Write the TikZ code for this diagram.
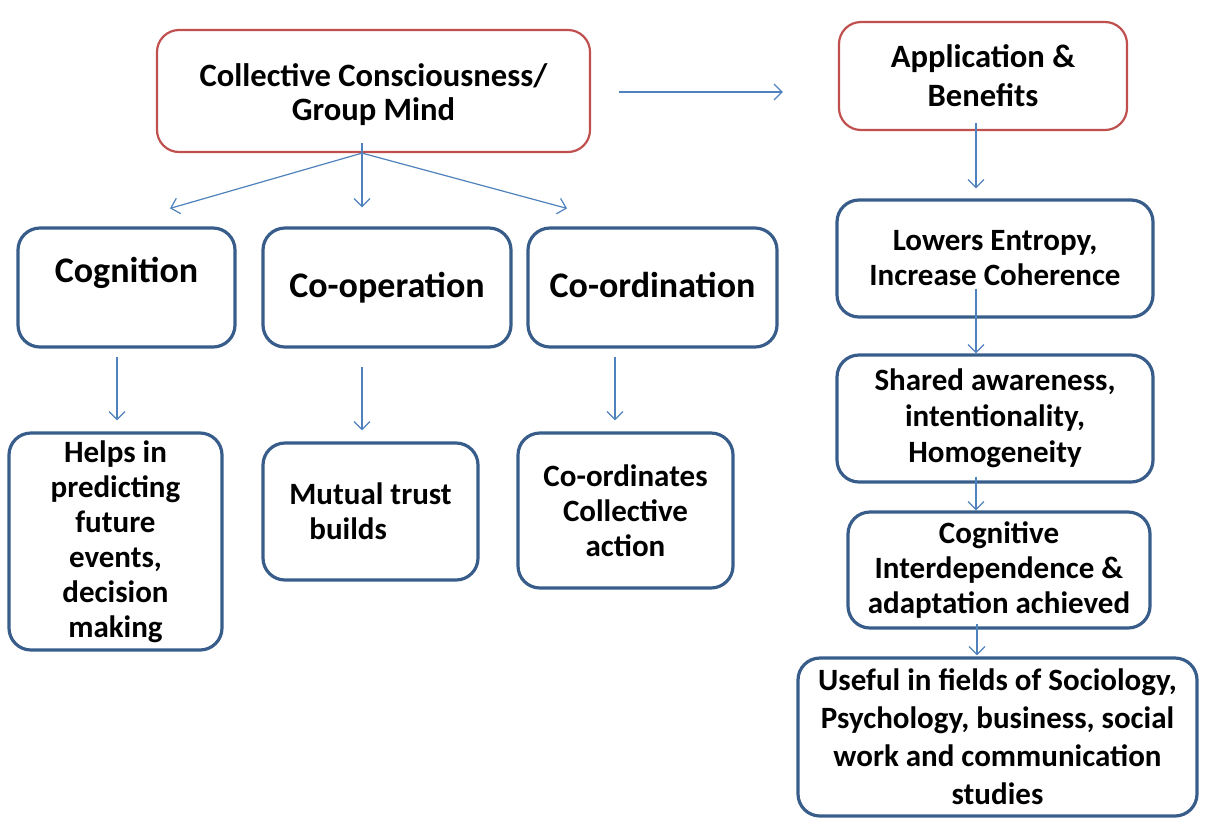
\documentclass[tikz,border=0pt]{standalone}
\usepackage{fontspec}
\setmainfont{Carlito}
\usetikzlibrary{arrows.meta}
\definecolor{boxred}{HTML}{C0504D}
\definecolor{boxblue}{HTML}{385D8A}
\definecolor{linkblue}{HTML}{4F81BD}
\begin{document}
\begin{tikzpicture}[x=0.5pt,y=-0.5pt,
  redbox/.style={draw=boxred,line width=1.1pt,rounded corners=11pt,align=center,inner sep=0pt,
    font=\bfseries\fontsize{16.3}{17}\selectfont},
  bluebox/.style={draw=boxblue,line width=1.6pt,rounded corners=11pt,align=center,inner sep=0pt,
    font=\bfseries\fontsize{15.5}{17.5}\selectfont},
  head/.style={font=\bfseries\fontsize{18}{21}\selectfont},
  conn/.style={draw=linkblue,line width=0.6pt,-{Straight Barb[length=4pt,width=8pt]}}]
\useasboundingbox (0,0) rectangle (1208,820);
% top row
\node[redbox,minimum width=216.5pt,text height=45pt,text depth=16pt] (cc) at (373.5,91)
  {Collective Consciousness/\\Group Mind};
\node[redbox,minimum width=144pt,minimum height=54pt,font=\bfseries\fontsize{16.3}{19.5}\selectfont] (app) at (983,76)
  {Application \&\\Benefits};
% left side
\node[bluebox,head,minimum width=108.5pt,text height=27pt,text depth=32.5pt] (cog) at (126.5,287.5) {Cognition};
\node[bluebox,head,minimum width=124pt,text height=34.5pt,text depth=25pt] (coop) at (387,287.5) {Co-operation};
\node[bluebox,head,minimum width=124.5pt,text height=34.5pt,text depth=25pt] (coord) at (652.5,287.5) {Co-ordination};
\node[bluebox,minimum width=106.5pt,minimum height=108.5pt] (helps) at (115.5,541.5)
  {Helps in\\predicting\\future\\events,\\decision\\making};
\node[bluebox,align=left,minimum width=107.5pt,minimum height=68.5pt] (trust) at (370.5,511.5)
  {Mutual trust\\\hspace*{10pt}builds};
\node[bluebox,minimum width=107.5pt,minimum height=77.5pt] (coacts) at (625.5,510.5)
  {Co-ordinates\\Collective\\action};
% right side
\node[bluebox,minimum width=158pt,minimum height=58.5pt] (lowers) at (995,258.5)
  {Lowers Entropy,\\Increase Coherence};
\node[bluebox,minimum width=158pt,minimum height=63.5pt,font=\bfseries\fontsize{15.5}{18}\selectfont] (shared) at (995,418.5)
  {Shared awareness,\\intentionality,\\Homogeneity};
\node[bluebox,minimum width=151pt,minimum height=58pt] (cogint) at (999,570)
  {Cognitive\\Interdependence \&\\adaptation achieved};
\node[bluebox,minimum width=199.5pt,minimum height=79pt,font=\bfseries\fontsize{15.5}{19}\selectfont] (useful) at (997.5,737)
  {Useful in fields of Sociology,\\Psychology, business, social\\work and communication\\studies};
% connectors
\draw[conn] ([shift={(14pt,-0.5pt)}]cc.east) -- ([shift={(-27.5pt,-8pt)}]app.west);
\draw[conn] ([xshift=-5.75pt]cc.south) -- ([shift={(21.75pt,9pt)}]cog.north);
\draw[conn] ([shift={(-5.75pt,5pt)}]cc.south) -- ([shift={(-12.5pt,9.5pt)}]coop.north);
\draw[conn] ([xshift=-5.75pt]cc.south) -- ([shift={(-42.75pt,9pt)}]coord.north);
\draw[conn,shorten <=4pt,shorten >=5.5pt] ([xshift=-4.75pt]cog.south) -- ([xshift=-4.75pt]cog.south |- helps.north);
\draw[conn,shorten <=9pt,shorten >=5.5pt] ([xshift=-12.5pt]coop.south) -- ([xshift=-12.5pt]coop.south |- trust.north);
\draw[conn,shorten <=4pt,shorten >=5.5pt] ([xshift=-18.75pt]coord.south) -- ([xshift=-18.75pt]coord.south |- coacts.north);
\draw[conn,shorten >=5pt] ([shift={(-3.5pt,4pt)}]app.south) -- ([xshift=-9.5pt]lowers.north);
\draw[conn] ([shift={(-9.5pt,15pt)}]lowers.south) -- ([xshift=-9.5pt]shared.north);
\draw[conn] ([shift={(-9.5pt,3.5pt)}]shared.south) -- ([xshift=-9.5pt]shared.south |- cogint.north);
\draw[conn,shorten >=0.5pt] ([shift={(-11pt,3pt)}]cogint.south) -- ([xshift=-11pt]cogint.south |- useful.north);
\end{tikzpicture}
\end{document}
